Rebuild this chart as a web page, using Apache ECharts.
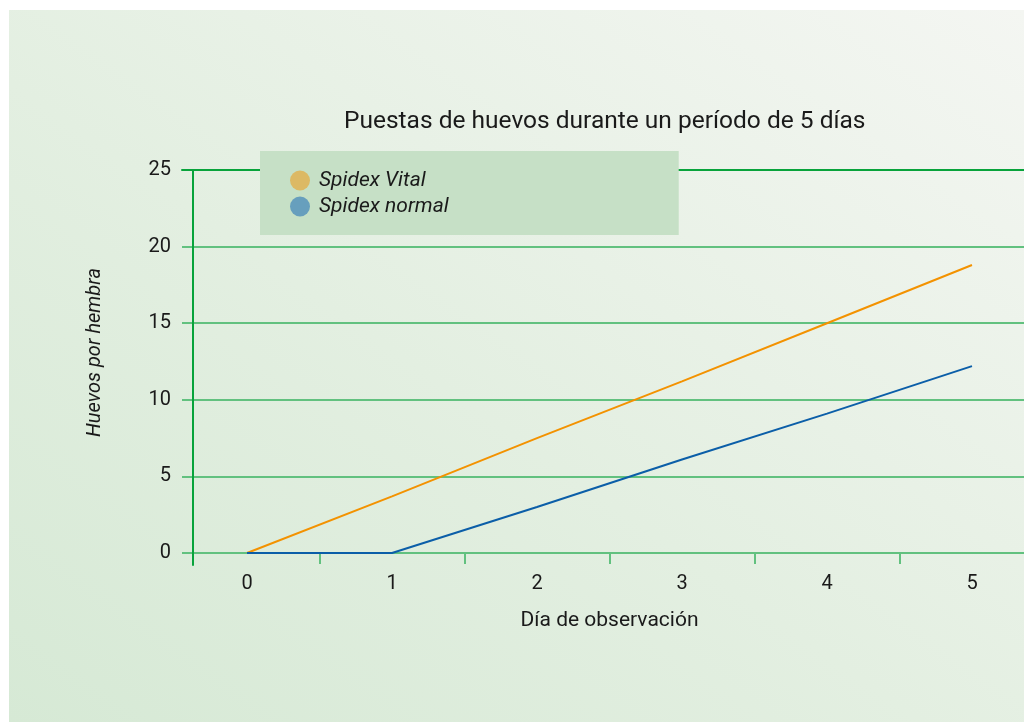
<!DOCTYPE html>
<html>
<head>
<meta charset="utf-8">
<script src="https://cdn.jsdelivr.net/npm/echarts@6/dist/echarts.min.js"></script>
<style>
html,body{margin:0;padding:0;background:#fff;}
#wrap{position:relative;width:1024px;height:722px;background:#fff;overflow:hidden;}
#bg{position:absolute;left:9px;top:10px;right:0;bottom:0;background:linear-gradient(to top right,#d6e9d5 0%,#e3efe1 45%,#f4f6f2 100%);}
#chart{position:absolute;left:0;top:0;width:1024px;height:722px;}
</style>
</head>
<body>
<div id="wrap"><div id="bg"></div><div id="chart"></div></div>
<script>
const title = 'Puestas de huevos durante un período de 5 días';
const xName = 'Día de observación';
const yName = 'Huevos por hembra';
const days = ['0', '1', '2', '3', '4', '5'];
const seriesNames = ['Spidex Vital', 'Spidex normal'];
const vitalValues = [0, 3.7, 7.5, 11.2, 15.0, 18.8];
const normalValues = [0, 0, 3.0, 6.1, 9.1, 12.2];
const yTicks = [0, 5, 10, 15, 20, 25];

const FONT = 'Roboto, "Noto Sans", sans-serif';
const TXT = '#1a1a1a';
const DARK = '#08a33b';
const LIGHT = '#62c17f';
const ORANGE = '#f39200';
const BLUE = '#0b5ea8';

const chart = echarts.init(document.getElementById('chart'), null, {renderer: 'canvas'});
chart.setOption({
  backgroundColor: 'transparent',
  animation: false,
  textStyle: {fontFamily: FONT},
  title: {
    text: title,
    left: 339,
    top: 104,
    textStyle: {fontFamily: FONT, fontSize: 24.5, fontWeight: 'normal', color: TXT}
  },
  legend: {
    left: 260, top: 151,
    orient: 'vertical',
    backgroundColor: '#c6e0c6',
    padding: [19, 230, 18, 30],
    itemWidth: 28, itemHeight: 20, itemGap: 5,
    icon: 'circle',
    textStyle: {fontFamily: FONT, fontSize: 21, fontStyle: 'italic', color: TXT},
    data: [
      {name: seriesNames[0], itemStyle: {color: '#dcb964'}},
      {name: seriesNames[1], itemStyle: {color: '#679fbd'}}
    ]
  },
  grid: [
    {left: 182, right: 0, top: 170, bottom: 169},
    {left: 174.5, width: 870, top: 170, bottom: 169, outerBoundsMode: 'none', containLabel: false},
    {left: 192.5, right: 0, top: 170, bottom: 157}
  ],
  xAxis: [
    {gridIndex: 0, type: 'value', position: 'top', min: 0, max: 1,
     axisLine: {show: true, onZero: false, lineStyle: {color: DARK, width: 2}},
     axisTick: {show: false}, axisLabel: {show: false}, splitLine: {show: false}},
    {gridIndex: 1, type: 'category', data: days, boundaryGap: true,
     name: xName, nameLocation: 'middle', nameGap: 57,
     nameTextStyle: {fontFamily: FONT, fontSize: 21, color: TXT},
     axisLine: {show: false, onZero: false},
     axisTick: {show: true, length: 11, lineStyle: {color: LIGHT, width: 2},
                interval: function (idx) { return idx !== 0; }},
     axisLabel: {margin: 21, fontFamily: FONT, fontSize: 20, color: TXT},
     splitLine: {show: false}},
    {gridIndex: 2, type: 'value', min: 0, max: 1, show: false}
  ],
  yAxis: [
    {gridIndex: 0, type: 'value', min: yTicks[0], max: yTicks[yTicks.length - 1], interval: 5,
     name: yName, nameLocation: 'middle', nameGap: 77,
     nameTextStyle: {fontFamily: FONT, fontSize: 20, fontStyle: 'italic', color: TXT, padding: [0, 0, 0, 18]},
     axisLine: {show: false}, axisTick: {show: false},
     axisLabel: {margin: 11, fontFamily: FONT, fontSize: 20, color: TXT},
     splitLine: {show: true, lineStyle: {color: LIGHT, width: 2}}},
    {gridIndex: 1, type: 'value', min: yTicks[0], max: yTicks[yTicks.length - 1], show: false},
    {gridIndex: 2, type: 'value', min: 0, max: 1,
     axisLine: {show: true, onZero: false, lineStyle: {color: DARK, width: 2}},
     axisTick: {show: false}, axisLabel: {show: false}, splitLine: {show: false}}
  ],
  series: [
    {name: seriesNames[0], type: 'line', xAxisIndex: 1, yAxisIndex: 1,
     data: vitalValues, showSymbol: false, symbol: 'none',
     lineStyle: {color: ORANGE, width: 2}, itemStyle: {color: ORANGE}},
    {name: seriesNames[1], type: 'line', xAxisIndex: 1, yAxisIndex: 1,
     data: normalValues, showSymbol: false, symbol: 'none',
     lineStyle: {color: BLUE, width: 2}, itemStyle: {color: BLUE}}
  ]
});
</script>
</body>
</html>
